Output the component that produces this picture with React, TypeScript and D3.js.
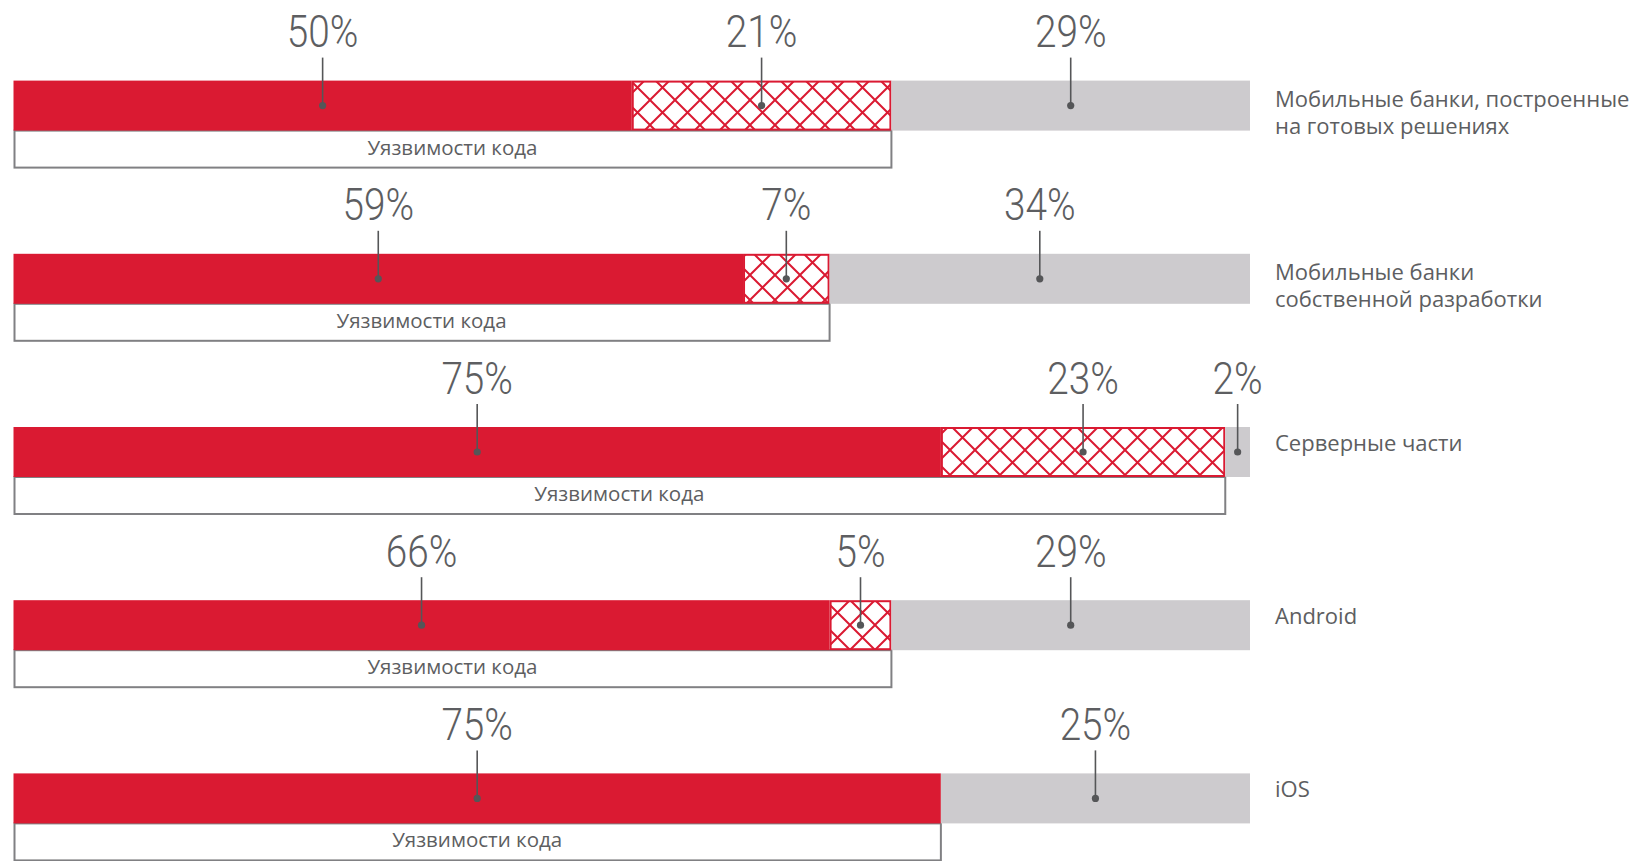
import React from "react";
import * as d3 from "d3";

const categories: string[][] = [
  ["Мобильные банки, построенные", "на готовых решениях"],
  ["Мобильные банки", "собственной разработки"],
  ["Серверные части"],
  ["Android"],
  ["iOS"],
];
const codeOnly = [50, 59, 75, 66, 75];
const codeMixed = [21, 7, 23, 5, 0];
const other = [29, 34, 2, 29, 25];
const bracketLabel = "Уязвимости кода";

const W = 1641;
const H = 861;
const RED = "#DA1A32";
const GRAY = "#CDCBCE";
const TEXT = "#5D5E61";
const DARK = "#555658";

export default function App() {
  const x = d3.scaleLinear().domain([0, 100]).range([13.5, 1250]);
  const y = d3
    .scaleBand<number>()
    .domain(d3.range(categories.length))
    .range([80.6, 80.6 + 173.2 * categories.length])
    .paddingInner(0)
    .paddingOuter(0);
  const barH = 50;
  const bracketH = 37;

  return (
    <svg
      width={W}
      height={H}
      style={{ position: "absolute", left: 0, top: 0, background: "#fff" }}
    >
      <defs>
        <pattern
          id="hatch"
          patternUnits="userSpaceOnUse"
          width={25}
          height={25}
        >
          <rect width={25} height={25} fill="#fff" />
          <path
            d="M-3,-3L28,28M28,-3L-3,28"
            stroke={RED}
            strokeWidth={2}
            fill="none"
          />
        </pattern>
      </defs>
      {categories.map((cat, i) => {
        const top = y(i)!;
        const cy = top + barH / 2;
        const segs = [
          { v: codeOnly[i], kind: "red" },
          { v: codeMixed[i], kind: "hatch" },
          { v: other[i], kind: "gray" },
        ];
        let acc = 0;
        const placed = segs.map((s) => {
          const x0 = x(acc);
          acc += s.v;
          const x1 = x(acc);
          return { ...s, x0, x1 };
        });
        const codeEnd = x(codeOnly[i] + codeMixed[i]);
        const n = cat.length;
        const base0 = cy - 1 + (n - 1) * 2;
        return (
          <g key={i}>
            <rect
              x={x(0) + 1}
              y={top + barH}
              width={codeEnd - x(0) - 1}
              height={bracketH}
              fill="#fff"
              stroke="#808083"
              strokeWidth={2}
            />
            <text
              x={(x(0) + codeEnd) / 2}
              y={top + barH + 24}
              textAnchor="middle"
              fontFamily="'Open Sans', sans-serif"
              fontSize={20.5}
              fill={TEXT}
            >
              {bracketLabel}
            </text>
            {placed.map((s, j) =>
              s.v > 0 ? (
                s.kind === "hatch" ? (
                  <rect
                    key={j}
                    x={s.x0 + 1}
                    y={top + 1}
                    width={s.x1 - s.x0 - 2}
                    height={barH - 2}
                    fill="url(#hatch)"
                    stroke={RED}
                    strokeWidth={2}
                  />
                ) : (
                  <rect
                    key={j}
                    x={s.x0}
                    y={top}
                    width={s.x1 - s.x0}
                    height={barH}
                    fill={s.kind === "red" ? RED : GRAY}
                  />
                )
              ) : null
            )}
            {placed.map((s, j) => {
              if (s.v <= 0) return null;
              const cx = (s.x0 + s.x1) / 2;
              return (
                <g key={"l" + j}>
                  <line
                    x1={cx}
                    x2={cx}
                    y1={top - 23}
                    y2={cy}
                    stroke={DARK}
                    strokeWidth={1.6}
                  />
                  <circle cx={cx} cy={cy} r={3.6} fill={DARK} />
                  <text
                    transform={`translate(${cx},${top - 33.5}) scale(0.88,1)`}
                    textAnchor="middle"
                    fontFamily="Roboto, 'Open Sans', sans-serif"
                    fontWeight={300}
                    fontSize={44}
                    fill={TEXT}
                  >
                    {s.v}%
                  </text>
                </g>
              );
            })}
            {cat.map((line, k) => (
              <text
                key={"c" + k}
                x={1275}
                y={base0 + k * 27.5}
                fontFamily="'Open Sans', sans-serif"
                fontSize={22}
                fill={TEXT}
              >
                {line}
              </text>
            ))}
          </g>
        );
      })}
    </svg>
  );
}
